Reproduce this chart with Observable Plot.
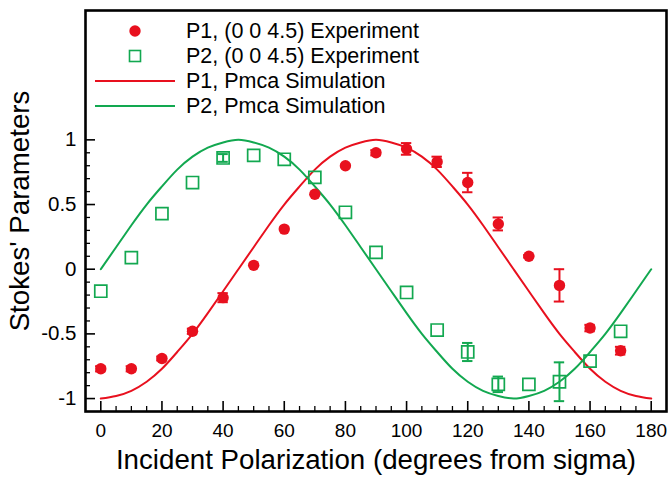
<!DOCTYPE html>
<html>
<head>
<meta charset="utf-8">
<script src="https://cdn.jsdelivr.net/npm/d3@7"></script>
<script src="https://cdn.jsdelivr.net/npm/@observablehq/plot@0.6"></script>
<style>
  html, body { margin: 0; padding: 0; background: #fff; }
  #wrap { position: relative; width: 669px; height: 477px; }
  #legend { position: absolute; left: 0; top: 0; }
  g[aria-label="y-axis tick label"] { font-size: 20.5px; }
  g[aria-label="x-axis tick label"] { font-size: 19px; }
</style>
</head>
<body>
<div id="wrap"></div>
<script>
// ---- data ----
const angles = [0, 10, 20, 30, 40, 50, 60, 70, 80, 90, 100, 110, 120, 130, 140, 150, 160, 170];
const p1Exp = [-0.77, -0.77, -0.69, -0.48, -0.22, 0.03, 0.31, 0.58, 0.80, 0.90, 0.93, 0.83, 0.67, 0.35, 0.10, -0.125, -0.455, -0.63];
const p1Err = [0.02, 0.02, 0.015, 0.02, 0.035, 0, 0, 0, 0, 0.02, 0.045, 0.04, 0.075, 0.05, 0.01, 0.125, 0.025, 0.03];
const p2Exp = [-0.17, 0.09, 0.43, 0.67, 0.86, 0.88, 0.85, 0.71, 0.44, 0.13, -0.18, -0.47, -0.64, -0.89, -0.89, -0.87, -0.71, -0.48];
const p2Err = [0, 0, 0, 0, 0.03, 0, 0, 0, 0, 0, 0, 0, 0.07, 0.06, 0, 0.15, 0, 0];

const simAngles = [0, 5, 10, 15, 20, 25, 30, 35, 40, 45, 50, 55, 60, 65, 70, 75, 80, 85, 90, 95, 100, 105, 110, 115, 120, 125, 130, 135, 140, 145, 150, 155, 160, 165, 170, 175, 180];
const p1Sim = [-1, -0.98, -0.94, -0.87, -0.77, -0.64, -0.5, -0.34, -0.17, 0, 0.17, 0.34, 0.5, 0.64, 0.77, 0.87, 0.94, 0.98, 1, 0.98, 0.94, 0.87, 0.77, 0.64, 0.5, 0.34, 0.17, 0, -0.17, -0.34, -0.5, -0.64, -0.77, -0.87, -0.94, -0.98, -1];
const p2Sim = [0, 0.17, 0.34, 0.5, 0.64, 0.77, 0.87, 0.94, 0.98, 1, 0.98, 0.94, 0.87, 0.77, 0.64, 0.5, 0.34, 0.17, 0, -0.17, -0.34, -0.5, -0.64, -0.77, -0.87, -0.94, -0.98, -1, -0.98, -0.94, -0.87, -0.77, -0.64, -0.5, -0.34, -0.17, 0];

const xMajor = [0, 20, 40, 60, 80, 100, 120, 140, 160, 180];
const xMinor = [5, 10, 15, 25, 30, 35, 45, 50, 55, 65, 70, 75, 85, 90, 95, 105, 110, 115, 125, 130, 135, 145, 150, 155, 165, 170, 175];
const yMajor = [-1, -0.5, 0, 0.5, 1];
const yMinor = [-0.9, -0.8, -0.7, -0.6, -0.4, -0.3, -0.2, -0.1, 0.1, 0.2, 0.3, 0.4, 0.6, 0.7, 0.8, 0.9];

const legendLabels = ["P1, (0 0 4.5) Experiment", "P2, (0 0 4.5) Experiment", "P1, Pmca Simulation", "P2, Pmca Simulation"];
const xTitle = "Incident Polarization (degrees from sigma)";
const yTitle = "Stokes' Parameters";

// ---- styling ----
const RED = "#e8101e";
const GREEN = "#12a850";
const W = 669, H = 477;
const mT = 10, mR = 3, mB = 66, mL = 85;
const innerW = W - mL - mR, innerH = H - mT - mB;
const capHalf = 1.7; // half cap width in degrees

const exp1 = angles.map((a, i) => ({x: a, y: p1Exp[i], e: p1Err[i]}));
const exp2 = angles.map((a, i) => ({x: a, y: p2Exp[i], e: p2Err[i]}));
const sim1 = simAngles.map((a, i) => ({x: a, y: p1Sim[i]}));
const sim2 = simAngles.map((a, i) => ({x: a, y: p2Sim[i]}));
const err1 = exp1.filter(d => d.e > 0);
const err2 = exp2.filter(d => d.e > 0);

function errMarks(data, color) {
  return [
    Plot.ruleX(data, {x: "x", y1: d => d.y - d.e, y2: d => d.y + d.e, stroke: color, strokeWidth: 2}),
    Plot.ruleY(data, {y: d => d.y - d.e, x1: d => d.x - capHalf, x2: d => d.x + capHalf, stroke: color, strokeWidth: 2}),
    Plot.ruleY(data, {y: d => d.y + d.e, x1: d => d.x - capHalf, x2: d => d.x + capHalf, stroke: color, strokeWidth: 2})
  ];
}

const chart = Plot.plot({
  width: W, height: H,
  marginTop: mT, marginRight: mR, marginBottom: mB, marginLeft: mL,
  style: {fontFamily: "'Liberation Sans', Arial, Helvetica, sans-serif", fontSize: "19px", color: "black", background: "white"},
  x: {domain: [-5, 185]},
  y: {domain: [-1.1, 2.0]},
  marks: [
    Plot.line(sim1, {x: "x", y: "y", curve: "natural", stroke: RED, strokeWidth: 2}),
    Plot.line(sim2, {x: "x", y: "y", curve: "natural", stroke: GREEN, strokeWidth: 2}),
    ...errMarks(err2, GREEN),
    Plot.dot(exp2, {x: "x", y: "y", symbol: "square", r: 6.8, stroke: GREEN, strokeWidth: 1.7, fill: "none"}),
    ...errMarks(err1, RED),
    Plot.dot(exp1, {x: "x", y: "y", r: 5.7, fill: RED, stroke: "none"}),
    // ticks (inward)
    Plot.ruleX(xMajor, {x: d => d, insetTop: innerH - 10, stroke: "black", strokeWidth: 1.6}),
    Plot.ruleX(xMinor, {x: d => d, insetTop: innerH - 5, stroke: "black", strokeWidth: 1.3}),
    Plot.ruleY(yMajor, {y: d => d, insetRight: innerW - 10, stroke: "black", strokeWidth: 1.6}),
    Plot.ruleY(yMinor, {y: d => d, insetRight: innerW - 5, stroke: "black", strokeWidth: 1.3}),
    Plot.axisX(xMajor, {tickSize: 0, tickPadding: 12, tickFormat: d => String(d), label: null}),
    Plot.axisY(yMajor, {tickSize: 0, tickPadding: 9, tickFormat: d => String(d), label: null}),
    Plot.text([xTitle], {text: d => d, frameAnchor: "bottom", lineAnchor: "middle", textAnchor: "middle", dy: 49, fontSize: 27.7, fill: "black"}),
    Plot.text([yTitle], {text: d => d, frameAnchor: "left", lineAnchor: "middle", textAnchor: "middle", dx: -65, rotate: -90, fontSize: 27.7, fill: "black"}),
    Plot.frame({stroke: "black", strokeWidth: 2.6})
  ]
});

const wrap = document.getElementById("wrap");
wrap.appendChild(chart);

// ---- legend overlay ----
const ns = "http://www.w3.org/2000/svg";
const lg = document.createElementNS(ns, "svg");
lg.setAttribute("id", "legend");
lg.setAttribute("width", 460);
lg.setAttribute("height", 125);
lg.style.fontFamily = "'Liberation Sans', Arial, Helvetica, sans-serif";
const rowY = [31, 56, 81, 106];
const symX = 135, lineX1 = 95, lineX2 = 175, textX = 186;
function el(tag, attrs) {
  const e = document.createElementNS(ns, tag);
  for (const k in attrs) e.setAttribute(k, attrs[k]);
  lg.appendChild(e);
  return e;
}
el("circle", {cx: symX, cy: rowY[0], r: 5.7, fill: RED});
el("rect", {x: symX - 5.5, y: rowY[1] - 5.5, width: 11, height: 11, fill: "none", stroke: GREEN, "stroke-width": 1.6});
el("line", {x1: lineX1, x2: lineX2, y1: rowY[2], y2: rowY[2], stroke: RED, "stroke-width": 2});
el("line", {x1: lineX1, x2: lineX2, y1: rowY[3], y2: rowY[3], stroke: GREEN, "stroke-width": 2});
legendLabels.forEach((t, i) => {
  const tx = el("text", {x: textX, y: rowY[i], "dominant-baseline": "central", "font-size": 21.5, fill: "black"});
  tx.textContent = t;
});
wrap.appendChild(lg);
</script>
</body>
</html>
